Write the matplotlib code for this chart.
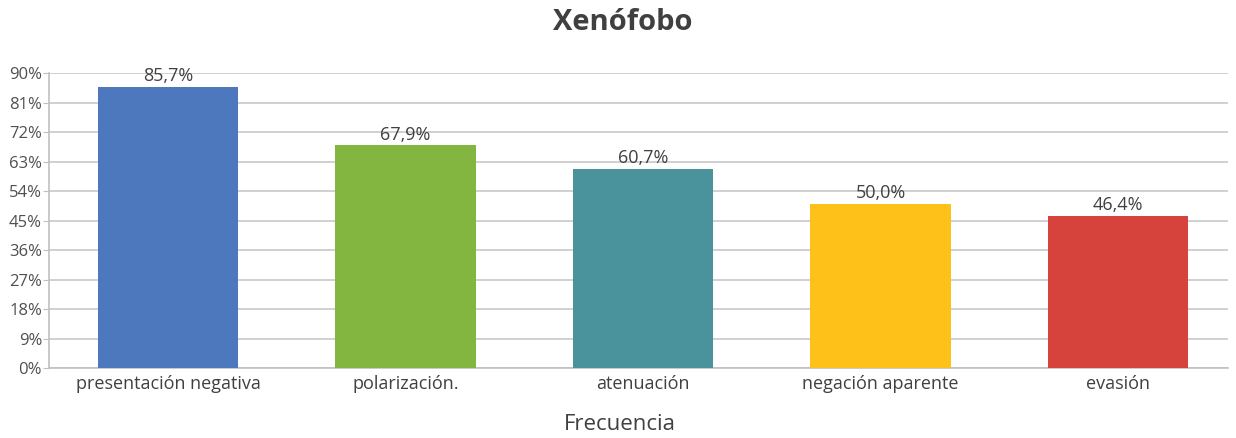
import matplotlib.pyplot as plt

categories = ['presentación negativa', 'polarización.', 'atenuación', 'negación aparente', 'evasión']
values = [85.7, 67.9, 60.7, 50.0, 46.4]
colors = ['#4E78BE', '#82B641', '#4A929C', '#FDC11A', '#D5433C']
yticks = [0, 9, 18, 27, 36, 45, 54, 63, 72, 81, 90]

plt.rcParams['font.family'] = ['Open Sans', 'DejaVu Sans']

fig = plt.figure(figsize=(12.36, 4.38), dpi=100)
ax = fig.add_axes([0.0396, 0.1598, 0.954, 0.6735])

x = range(len(categories))
bars = ax.bar(x, values, width=0.59, color=colors, zorder=3)
for b, v in zip(bars, values):
    ax.text(b.get_x() + b.get_width() / 2, v + 0.5, f'{v:.1f}%'.replace('.', ','),
            ha='center', va='bottom', fontsize=13, color='#404040')

ax.set_xlim(-0.501, 4.463)
ax.set_ylim(0, 90)
ax.set_yticks(yticks)
ax.set_yticklabels([f'{t}%' for t in yticks])
ax.set_xticks(list(x))
ax.set_xticklabels(categories)
ax.grid(axis='y', color='#C8C8C8', linewidth=1.2, zorder=0)
for s in ['top', 'right']:
    ax.spines[s].set_visible(False)
ax.spines['left'].set_color('#C0C0C0')
ax.spines['bottom'].set_color('#C0C0C0')
ax.spines['left'].set_linewidth(1.2)
ax.spines['bottom'].set_linewidth(1.2)
ax.tick_params(axis='y', length=4, color='#C0C0C0', labelsize=12, labelcolor='#505050', pad=1)
ax.tick_params(axis='x', length=0, labelsize=13, labelcolor='#404040', pad=5)

fig.text(620 / 1236, 1 - 425 / 438, 'Frecuencia', fontsize=16, color='#404040',
         ha='center', va='center')
fig.text(623 / 1236, 1 - 22 / 438, 'Xenófobo', fontsize=21, fontweight='bold',
         color='#404040', ha='center', va='center')

fig.savefig('out.png', dpi=100)
